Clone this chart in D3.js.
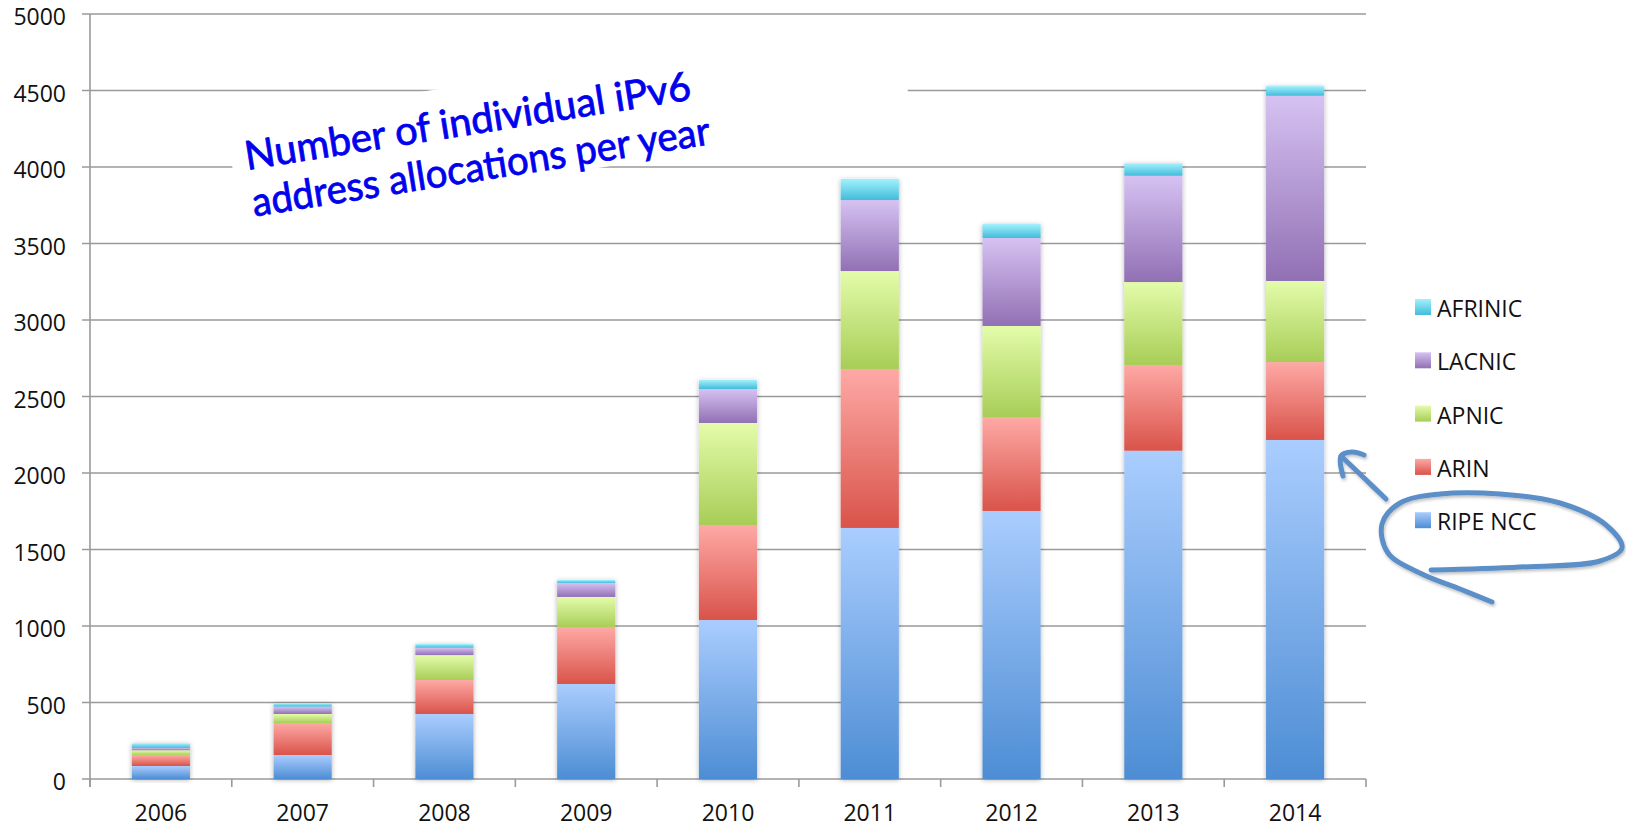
<!DOCTYPE html>
<html>
<head>
<meta charset="utf-8">
<script src="https://cdn.jsdelivr.net/npm/d3@7"></script>
<style>
  body { margin: 0; background: #fff; }
  text { font-family: "Open Sans", "Noto Sans", sans-serif; fill: #111; }
</style>
</head>
<body>
<div id="chart_area"></div>
<script>
// data
var years   = ["2006", "2007", "2008", "2009", "2010", "2011", "2012", "2013", "2014"];
var ripe    = [85, 157, 425, 621, 1039, 1641, 1752, 2146, 2216];
var arin    = [70, 209, 222, 370, 621, 1039, 614, 560, 509];
var apnic   = [33, 59, 163, 199, 667, 640, 595, 542, 530];
var lacnic  = [15, 48, 48, 91, 222, 464, 575, 695, 1211];
var afrinic = [30, 22, 24, 20, 59, 138, 91, 81, 63];
var seriesNames = ["RIPE NCC", "ARIN", "APNIC", "LACNIC", "AFRINIC"];
var yTicks = [0, 500, 1000, 1500, 2000, 2500, 3000, 3500, 4000, 4500, 5000];
var noteLines = ["Number of individual iPv6", "address allocations per year"];

// gradient top / bottom for each series
var colors = {
    "RIPE NCC": ["#aacdfe", "#4d8dd4"],
    "ARIN":     ["#fea9a5", "#d9534a"],
    "APNIC":    ["#e3fcaa", "#a8cd57"],
    "LACNIC":   ["#d6c2f2", "#9170b4"],
    "AFRINIC":  ["#a2f1fd", "#42bcda"]
};

var rows = years.map(function(y, i) {
    return { year: y, "RIPE NCC": ripe[i], "ARIN": arin[i], "APNIC": apnic[i],
             "LACNIC": lacnic[i], "AFRINIC": afrinic[i] };
});

var W = 1626, H = 828;
var plotLeft = 90, plotRight = 1366, plotTop = 14, plotBottom = 779;

var svg = d3.select("#chart_area").append("svg")
    .attr("width", W).attr("height", H);

var defs = svg.append("defs");
seriesNames.forEach(function(s, i) {
    var g = defs.append("linearGradient").attr("id", "grad" + i)
        .attr("x1", 0).attr("y1", 0).attr("x2", 0).attr("y2", 1);
    g.append("stop").attr("offset", "0%").attr("stop-color", colors[s][0]);
    g.append("stop").attr("offset", "100%").attr("stop-color", colors[s][1]);
});
var shadow = defs.append("filter").attr("id", "shadow")
    .attr("x", "-30%").attr("y", "-10%").attr("width", "160%").attr("height", "120%");
shadow.append("feDropShadow").attr("dx", 0).attr("dy", 1)
    .attr("stdDeviation", 2.5).attr("flood-color", "#000").attr("flood-opacity", 0.3);
var penShadow = defs.append("filter").attr("id", "penShadow");
penShadow.append("feDropShadow").attr("dx", 1).attr("dy", 2)
    .attr("stdDeviation", 1.5).attr("flood-color", "#000").attr("flood-opacity", 0.25);

var x = d3.scaleBand().domain(years).range([plotLeft, plotRight])
    .paddingInner(0.59).paddingOuter(0.295);
var y = d3.scaleLinear().domain([0, 5000]).range([plotBottom, plotTop]);

// gridlines
svg.append("g").selectAll("line").data(yTicks).enter().append("line")
    .attr("x1", plotLeft - 8).attr("x2", plotRight)
    .attr("y1", function(d) { return y(d); })
    .attr("y2", function(d) { return y(d); })
    .attr("stroke", "#9a9a9a").attr("stroke-width", 1.6);

// y axis line + labels
svg.append("line").attr("x1", plotLeft).attr("x2", plotLeft)
    .attr("y1", y(5000)).attr("y2", plotBottom + 8)
    .attr("stroke", "#9a9a9a").attr("stroke-width", 1.6);
svg.append("g").selectAll("text").data(yTicks).enter().append("text")
    .attr("x", 66).attr("y", function(d) { return y(d) + 2; })
    .attr("text-anchor", "end").attr("dominant-baseline", "central")
    .style("font-size", "23px")
    .text(function(d) { return d; });

// x ticks between categories
var step = x.step();
svg.append("g").selectAll("line").data(d3.range(years.length + 1)).enter().append("line")
    .attr("x1", function(i) { return plotLeft + i * step; })
    .attr("x2", function(i) { return plotLeft + i * step; })
    .attr("y1", plotBottom).attr("y2", plotBottom + 8)
    .attr("stroke", "#9a9a9a").attr("stroke-width", 1.6);
svg.append("g").selectAll("text").data(years).enter().append("text")
    .attr("x", function(d) { return x(d) + x.bandwidth() / 2; })
    .attr("y", 812).attr("text-anchor", "middle").attr("dominant-baseline", "central")
    .style("font-size", "23px")
    .text(function(d) { return d; });

// stacked bars
var stacked = d3.stack().keys(seriesNames)(rows);
var barG = svg.append("g").selectAll("g").data(years).enter().append("g")
    .attr("filter", "url(#shadow)");
barG.each(function(yr, j) {
    var g = d3.select(this);
    stacked.forEach(function(layer, i) {
        var d = layer[j];
        g.append("rect")
            .attr("x", x(yr)).attr("width", x.bandwidth())
            .attr("y", y(d[1])).attr("height", y(d[0]) - y(d[1]))
            .attr("fill", "url(#grad" + i + ")");
    });
});

// legend
var legend = svg.append("g").selectAll("g").data(seriesNames.slice().reverse()).enter().append("g")
    .attr("transform", function(d, i) { return "translate(1415," + (307 + i * 53.3) + ")"; });
legend.append("rect").attr("x", 0).attr("y", -8).attr("width", 16).attr("height", 16)
    .attr("fill", function(d) { return "url(#grad" + seriesNames.indexOf(d) + ")"; });
legend.append("text").attr("x", 22).attr("y", 1)
    .attr("dominant-baseline", "central").style("font-size", "23px")
    .text(function(d) { return d; });

// handwritten note
var note = svg.append("g").attr("transform", "translate(247,170) rotate(-9)");
note.append("rect").attr("x", -14).attr("y", -50).attr("width", 679).attr("height", 103)
    .attr("fill", "#fff");
note.selectAll("text").data(noteLines).enter().append("text")
    .attr("x", 0).attr("y", function(d, i) { return i * 47; })
    .attr("textLength", function(d, i) { return i ? 463 : 451; })
    .attr("lengthAdjust", "spacingAndGlyphs")
    .style("font-family", "Lato, sans-serif")
    .style("font-size", "40px")
    .style("fill", "#0000ee")
    .style("stroke", "#0000ee").style("stroke-width", 0.8)
    .text(function(d) { return d; });

// pen arrow and loop around RIPE NCC
var pen = svg.append("g").attr("fill", "none").attr("stroke", "#5b8fc8")
    .attr("stroke-width", 5).attr("stroke-linecap", "round").attr("stroke-linejoin", "round")
    .attr("filter", "url(#penShadow)");
var line = d3.line().curve(d3.curveCatmullRom);
pen.append("path").attr("d", line([[1386, 499], [1362, 476], [1341, 456]]));
pen.append("path").attr("d", line([[1364, 455], [1352, 452], [1341, 456], [1343, 476]]));
pen.append("path").attr("d", line([
    [1431, 570], [1520, 567], [1600, 561], [1622, 548], [1606, 525], [1560, 503],
    [1500, 494], [1440, 494], [1400, 503], [1382, 524], [1388, 553], [1422, 574],
    [1460, 589], [1492, 602]
]));
</script>
</body>
</html>
